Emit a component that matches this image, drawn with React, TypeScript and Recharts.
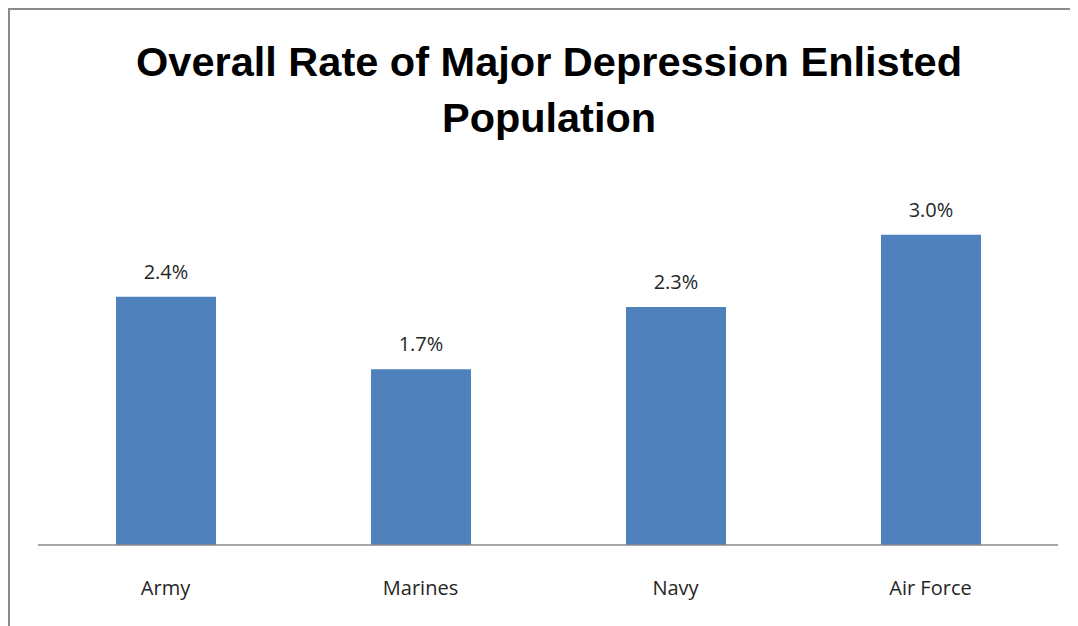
import { BarChart, Bar, XAxis, YAxis, LabelList } from 'recharts';

const categories = ['Army', 'Marines', 'Navy', 'Air Force'];
const rates = [2.4, 1.7, 2.3, 3.0];

const data = categories.map((name, i) => ({ name, rate: rates[i] }));

const textColor = '#262626';
const bodyFont = '"Open Sans", "Liberation Sans", sans-serif';

export default function App() {
  return (
    <div
      style={{
        position: 'relative',
        width: 1066,
        height: 640,
        border: '2px solid #8a8a8a',
        background: '#fff',
      }}
    >
      <svg
        width={1066}
        height={140}
        style={{ position: 'absolute', left: 0, top: 0, pointerEvents: 'none' }}
      >
        <text
          x={539}
          y={66}
          textAnchor="middle"
          fontFamily='"Liberation Sans", Arial, sans-serif'
          fontWeight="bold"
          fontSize={41}
          fill="#000"
          textLength={826}
          lengthAdjust="spacingAndGlyphs"
        >
          Overall Rate of Major Depression Enlisted
        </text>
        <text
          x={539}
          y={122}
          textAnchor="middle"
          fontFamily='"Liberation Sans", Arial, sans-serif'
          fontWeight="bold"
          fontSize={41}
          fill="#000"
          textLength={214}
          lengthAdjust="spacingAndGlyphs"
        >
          Population
        </text>
      </svg>
      <BarChart
        width={1066}
        height={616}
        data={data}
        margin={{ top: 173, right: 18, left: 28, bottom: 0 }}
      >
        <XAxis
          dataKey="name"
          height={81}
          tickLine={false}
          axisLine={{ stroke: '#8a8a8a', strokeWidth: 1.5 }}
          tickMargin={30}
          tick={{ fill: textColor, fontSize: 20, fontFamily: bodyFont }}
        />
        <YAxis hide domain={[0, 3.5]} />
        <Bar dataKey="rate" fill="#4f81bd" barSize={100} isAnimationActive={false}>
          <LabelList
            dataKey="rate"
            position="top"
            offset={18}
            formatter={(v: number) => `${v.toFixed(1)}%`}
            style={{ fill: textColor, fontSize: 20, fontFamily: bodyFont }}
          />
        </Bar>
      </BarChart>
    </div>
  );
}
